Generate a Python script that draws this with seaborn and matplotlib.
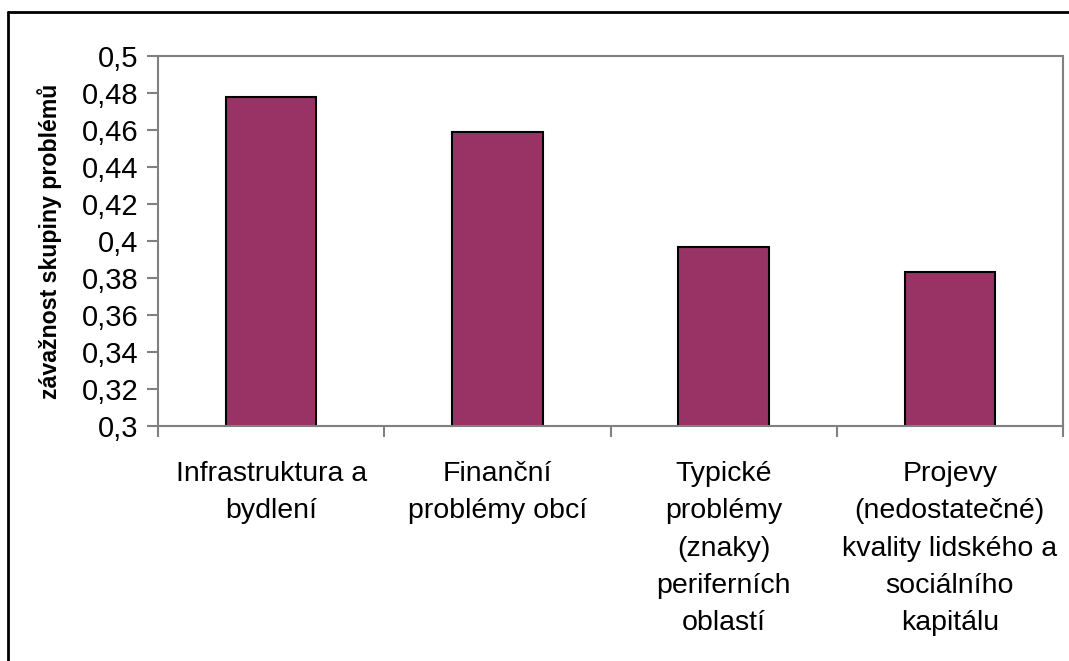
import matplotlib
matplotlib.use("Agg")
import matplotlib.pyplot as plt
from matplotlib.lines import Line2D
from matplotlib.ticker import FixedLocator, FuncFormatter
import numpy as np
import pandas as pd
import seaborn as sns

# data
categories = [
    "Infrastruktura a\nbydlení",
    "Finanční\nproblémy obcí",
    "Typické\nproblémy\n(znaky)\nperiferních\noblastí",
    "Projevy\n(nedostatečné)\nkvality lidského a\nsociálního\nkapitálu",
]
values = [0.478, 0.459, 0.397, 0.383]
y_ticks = [0.30, 0.32, 0.34, 0.36, 0.38, 0.40, 0.42, 0.44, 0.46, 0.48, 0.50]

sns.set_style("white")
plt.rcParams["font.family"] = ["Liberation Sans", "DejaVu Sans"]
plt.rcParams["text.color"] = "black"
plt.rcParams["xtick.labelcolor"] = "black"
plt.rcParams["ytick.labelcolor"] = "black"

df = pd.DataFrame({"skupina": categories, "hodnota": values})

fig = plt.figure(figsize=(10.69, 6.61), dpi=100)
ax = fig.add_axes([158 / 1069, 1 - 426 / 661, 905 / 1069, 370 / 661])

sns.barplot(data=df, x="skupina", y="hodnota", color="#993366", saturation=1,
            width=0.4, edgecolor="black", linewidth=1.5, ax=ax)

ax.set_ylim(0.3, 0.5)
ax.set_xlim(-0.5, len(categories) - 0.5)
ax.yaxis.set_major_locator(FixedLocator(y_ticks))
ax.yaxis.set_major_formatter(FuncFormatter(lambda v, p: f"{v:g}".replace(".", ",")))

# category boundaries get the ticks, labels sit at the centres
ax.set_xticks(np.arange(len(categories) + 1) - 0.5)
ax.set_xticklabels([""] * (len(categories) + 1))
ax.set_xticks(np.arange(len(categories)), minor=True)
ax.set_xticklabels(categories, minor=True, fontsize=20.5, linespacing=1.57, color="black")
ax.tick_params(axis="x", which="minor", length=0, pad=25)
ax.tick_params(axis="x", which="major", length=8, width=1.5, color="#808080", direction="out")
ax.tick_params(axis="y", length=8, width=1.5, color="#808080", direction="out",
               labelsize=21, pad=6, labelcolor="black")
ax.tick_params(left=True, bottom=True)

for s in ax.spines.values():
    s.set_color("#808080")
    s.set_linewidth(1.5)
    s.set_visible(True)

ax.set_xlabel("")
ax.set_ylabel("závažnost skupiny problémů", fontsize=16.7, fontweight="bold",
              labelpad=14, color="black")

# outer chart border (top and left edge visible)
fig.add_artist(Line2D([8 / 1069, 1], [1 - 12 / 661, 1 - 12 / 661], color="black",
                      lw=2, transform=fig.transFigure))
fig.add_artist(Line2D([8 / 1069, 8 / 1069], [0, 1 - 12 / 661], color="black",
                      lw=2, transform=fig.transFigure))

fig.savefig("out.png", dpi=100)
